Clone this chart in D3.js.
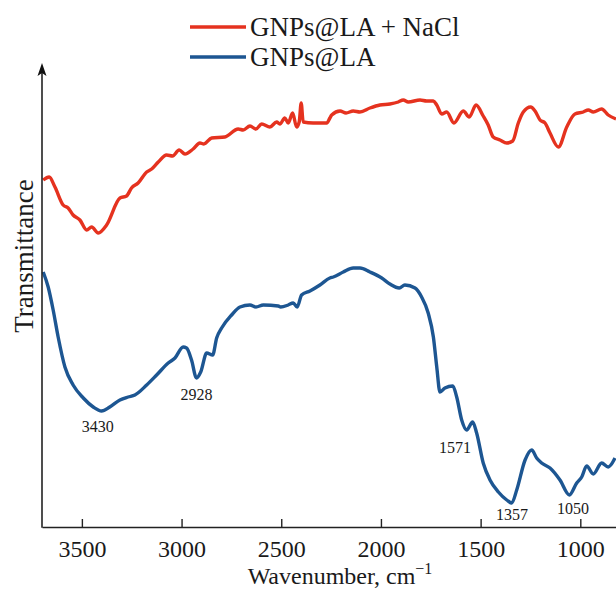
<!DOCTYPE html>
<html>
<head>
<meta charset="utf-8">
<script src="https://cdn.jsdelivr.net/npm/d3@7"></script>
<style>
  html, body { margin: 0; padding: 0; background: #fff; }
  text { font-family: "Liberation Serif", "Times New Roman", serif; fill: #1a1a1a; }
</style>
</head>
<body>
<div id="chart"></div>
<script>
// wavenumber (cm-1) and transmittance (a.u.)
const naclWave = [3694, 3664, 3635, 3594, 3569, 3544, 3510, 3476, 3451, 3418, 3376, 3309, 3276, 3251, 3218, 3175, 3150, 3117, 3075, 3045, 3012, 2983, 2942, 2908, 2888, 2849, 2783, 2716, 2691, 2657, 2627, 2598, 2557, 2523, 2507, 2482, 2465, 2443, 2423, 2410, 2400, 2390, 2340, 2272, 2256, 2247, 2205, 2175, 2139, 2105, 2055, 2005, 1955, 1913, 1888, 1863, 1804, 1771, 1737, 1720, 1695, 1670, 1634, 1587, 1557, 1523, 1487, 1462, 1437, 1403, 1369, 1339, 1311, 1286, 1249, 1227, 1202, 1177, 1152, 1110, 1068, 1027, 985, 960, 935, 893, 860, 821];
const naclT = [34.7, 35.0, 34.0, 32.2, 31.9, 31.2, 30.7, 29.7, 30.0, 29.4, 30.2, 32.9, 33.1, 33.9, 34.4, 35.5, 35.8, 36.5, 37.2, 37.1, 37.7, 37.3, 37.8, 38.4, 38.3, 38.9, 39.0, 39.8, 39.7, 40.1, 39.8, 40.3, 40.0, 40.5, 40.3, 40.9, 40.4, 41.4, 40.0, 40.5, 42.4, 40.5, 40.4, 40.4, 40.9, 41.2, 41.6, 41.4, 41.6, 41.5, 41.9, 42.2, 42.3, 42.5, 42.7, 42.5, 42.7, 42.6, 42.6, 42.2, 41.3, 41.5, 40.4, 41.6, 41.0, 42.2, 41.1, 40.2, 39.0, 38.7, 38.4, 38.6, 40.4, 41.5, 42.0, 41.6, 40.7, 40.4, 39.4, 38.0, 40.0, 41.3, 41.5, 41.7, 41.5, 41.8, 41.2, 40.8];

const laWave = [3694, 3669, 3644, 3619, 3585, 3544, 3493, 3443, 3401, 3360, 3309, 3268, 3234, 3175, 3125, 3067, 3033, 2992, 2975, 2950, 2925, 2904, 2874, 2844, 2824, 2799, 2749, 2707, 2657, 2627, 2590, 2515, 2503, 2465, 2440, 2420, 2398, 2356, 2306, 2256, 2239, 2189, 2139, 2105, 2055, 1996, 1955, 1908, 1880, 1829, 1796, 1763, 1737, 1720, 1704, 1679, 1640, 1620, 1595, 1570, 1540, 1520, 1487, 1453, 1411, 1369, 1344, 1319, 1277, 1244, 1219, 1194, 1152, 1102, 1055, 1018, 993, 968, 935, 893, 860, 826];
const laT = [25.5, 24.0, 21.7, 19.0, 16.0, 14.2, 12.9, 12.0, 11.6, 12.0, 12.7, 13.0, 13.2, 14.2, 15.2, 16.4, 16.9, 18.0, 17.9, 16.7, 14.9, 15.5, 17.4, 17.2, 18.9, 19.9, 21.2, 22.0, 22.2, 22.0, 22.2, 22.1, 22.0, 22.2, 22.4, 22.0, 23.2, 23.6, 24.2, 24.9, 25.0, 25.5, 25.9, 25.9, 25.5, 24.9, 24.3, 23.9, 24.2, 23.9, 23.0, 21.4, 19.0, 16.0, 13.5, 13.9, 14.1, 13.0, 10.7, 9.7, 10.5, 9.4, 6.4, 4.7, 3.5, 2.7, 2.4, 3.7, 6.7, 7.7, 6.9, 6.4, 5.9, 4.7, 3.2, 4.4, 5.0, 6.1, 5.3, 6.4, 6.0, 6.9];

const seriesNames = ["GNPs@LA + NaCl", "GNPs@LA"];
const seriesColors = ["#e5321f", "#1d5692"];

const xTicks = [3500, 3000, 2500, 2000, 1500, 1000];

// peak annotations on the GNPs@LA curve (text anchor point in data units)
const peakText = ["3430", "2928", "1571", "1357", "1050"];
const peakWave = [3420, 2925, 1629, 1343, 1037];
const peakT = [9.55, 12.7, 7.45, 0.75, 1.35];

const width = 616, height = 589;
const margin = { top: 63, right: 0, bottom: 62, left: 42 };
const plotBottom = height - margin.bottom; // 527

const svg = d3.select("#chart").append("svg")
  .attr("width", width)
  .attr("height", height);

const xScale = d3.scaleLinear().domain([3700, 820]).range([margin.left, 616.2]);
const yScale = d3.scaleLinear().domain([0, 46.4]).range([plotBottom, margin.top]);

// Curves
const line = d3.line()
  .x((d) => xScale(d[0]))
  .y((d) => yScale(d[1]))
  .curve(d3.curveMonotoneX);

const seriesData = [
  d3.zip(naclWave, naclT),
  d3.zip(laWave, laT)
];

seriesData.forEach((pts, i) => {
  svg.append("path")
    .datum(pts)
    .attr("fill", "none")
    .attr("stroke", seriesColors[i])
    .attr("stroke-width", 3.4)
    .attr("stroke-linejoin", "round")
    .attr("d", line);
});

// X axis, ticks pointing inward
const xAxis = svg.append("g")
  .attr("transform", `translate(0,${plotBottom})`)
  .call(d3.axisBottom(xScale)
    .tickValues(xTicks)
    .tickFormat(d3.format("d"))
    .tickSize(-8)
    .tickSizeOuter(0)
    .tickPadding(13));
xAxis.select(".domain").attr("stroke", "#222").attr("stroke-width", 1.6);
xAxis.selectAll(".tick line").attr("stroke", "#222").attr("stroke-width", 1.4);
xAxis.selectAll(".tick text")
  .attr("font-family", "'Liberation Serif', 'Times New Roman', serif")
  .attr("font-size", "24px")
  .attr("fill", "#1a1a1a");

// Y axis: plain line with arrow head
const yTop = yScale(46.4);
svg.append("line")
  .attr("x1", margin.left).attr("x2", margin.left)
  .attr("y1", plotBottom + 0.8).attr("y2", yTop + 8)
  .attr("stroke", "#222").attr("stroke-width", 1.6);
svg.append("path")
  .attr("d", `M${margin.left},${yTop} L${margin.left - 4.5},${yTop + 13} L${margin.left},${yTop + 10} L${margin.left + 4.5},${yTop + 13} Z`)
  .attr("fill", "#111");

// Axis titles
const xTitle = svg.append("text")
  .attr("x", 340)
  .attr("y", 583.5)
  .attr("text-anchor", "middle")
  .attr("font-size", "24px");
xTitle.append("tspan").text("Wavenumber, cm");
xTitle.append("tspan").attr("dy", -10).attr("font-size", "16px").text("\u22121");

svg.append("text")
  .attr("transform", `translate(33,256) rotate(-90)`)
  .attr("text-anchor", "middle")
  .attr("font-size", "27px")
  .text("Transmittance");

// Peak labels
peakText.forEach((t, i) => {
  svg.append("text")
    .attr("x", xScale(peakWave[i]))
    .attr("y", yScale(peakT[i]))
    .attr("text-anchor", "middle")
    .attr("font-size", "16px")
    .text(t);
});

// Legend
const legend = svg.append("g").attr("transform", "translate(190,27)");
seriesNames.forEach((name, i) => {
  const row = legend.append("g").attr("transform", `translate(0,${i * 30})`);
  row.append("line")
    .attr("x1", 0).attr("x2", 56)
    .attr("y1", 0).attr("y2", 0)
    .attr("stroke", seriesColors[i])
    .attr("stroke-width", 3.4);
  row.append("text")
    .attr("x", 60)
    .attr("y", 9)
    .attr("font-size", "27px")
    .text(name);
});
</script>
</body>
</html>
